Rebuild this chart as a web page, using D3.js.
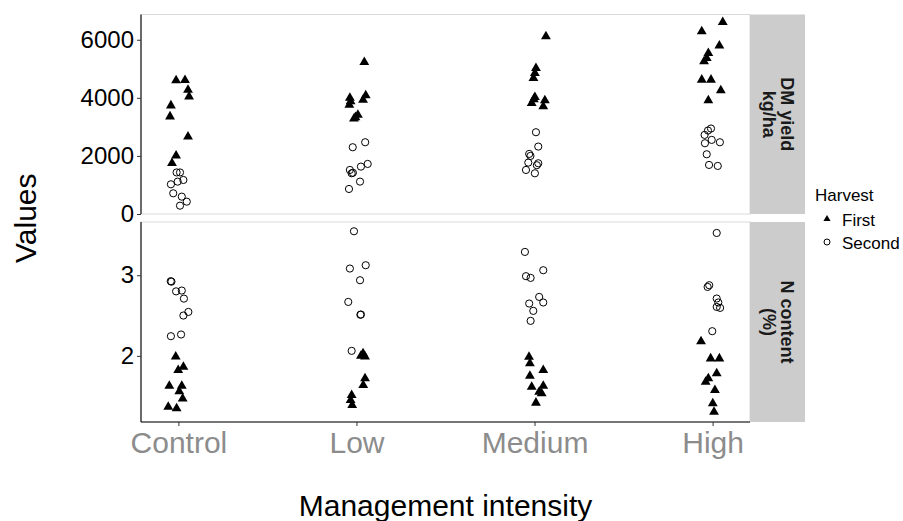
<!DOCTYPE html>
<html>
<head>
<meta charset="utf-8">
<script src="https://cdn.jsdelivr.net/npm/d3@7/dist/d3.min.js"></script>
<style>
  html, body { margin: 0; padding: 0; background: #fff; }
  svg { display: block; font-family: "Liberation Sans", Arial, sans-serif; }
</style>
</head>
<body>
<svg id="chart" width="903" height="521"></svg>
<script>
// Management intensity levels on the x axis
const categories = ["Control", "Low", "Medium", "High"];
const harvests = ["First", "Second"];

// Facet rows: DM yield (kg/ha) and N content (%)
const yieldTicks = [0, 2000, 4000, 6000];
const nTicks = [2, 3];

// Each row: [category, value, jitter (in category units)]
const yieldFirst = [
  ["Control", 4600, -0.013], ["Control", 4610, 0.037], ["Control", 4276, 0.054],
  ["Control", 4045, 0.060], ["Control", 3735, -0.042], ["Control", 3356, -0.047],
  ["Control", 2666, 0.054], ["Control", 2010, -0.013], ["Control", 1747, -0.036],
  ["Low", 5230, 0.044], ["Low", 4000, -0.037], ["Low", 3880, -0.033],
  ["Low", 3760, -0.040], ["Low", 4080, 0.052], ["Low", 3930, 0.037],
  ["Low", 3410, 0.008], ["Low", 3330, -0.006], ["Low", 3280, -0.014],
  ["Medium", 6115, 0.064], ["Medium", 5023, 0.008], ["Medium", 4851, 0.002],
  ["Medium", 4679, -0.006], ["Medium", 4023, 0.002], ["Medium", 3950, -0.004],
  ["Medium", 3816, -0.016], ["Medium", 3908, 0.058], ["Medium", 3701, 0.049],
  ["High", 6609, 0.057], ["High", 6287, -0.061], ["High", 5793, 0.038],
  ["High", 5540, -0.024], ["High", 5368, -0.033], ["High", 5253, -0.048],
  ["High", 4621, -0.061], ["High", 4621, -0.009], ["High", 4253, 0.046],
  ["High", 3908, -0.024]
];
const yieldSecond = [
  ["Control", 1431, -0.010], ["Control", 1431, 0.009], ["Control", 1172, 0.028],
  ["Control", 1115, -0.004], ["Control", 1023, -0.042], ["Control", 713, -0.029],
  ["Control", 598, 0.019], ["Control", 425, 0.047], ["Control", 287, 0.009],
  ["Low", 2299, -0.021], ["Low", 2471, 0.049], ["Low", 1517, -0.037],
  ["Low", 1402, -0.027], ["Low", 1420, -0.020], ["Low", 1632, 0.025],
  ["Low", 1724, 0.063], ["Low", 1115, 0.020], ["Low", 862, -0.042],
  ["Medium", 2816, 0.008], ["Medium", 2322, 0.021], ["Medium", 2069, -0.030],
  ["Medium", 2000, -0.023], ["Medium", 1770, -0.035], ["Medium", 1747, 0.021],
  ["Medium", 1680, 0.013], ["Medium", 1517, -0.048], ["Medium", 1402, 0.002],
  ["High", 2943, -0.009], ["High", 2874, -0.026], ["High", 2724, -0.045],
  ["High", 2552, -0.005], ["High", 2471, 0.041], ["High", 2437, -0.043],
  ["High", 2057, -0.033], ["High", 1690, -0.020], ["High", 1655, 0.029]
];
const nFirst = [
  ["Control", 1.99, -0.015], ["Control", 1.864, 0.028], ["Control", 1.823, -0.001],
  ["Control", 1.628, -0.051], ["Control", 1.628, 0.019], ["Control", 1.56, 0.005],
  ["Control", 1.47, 0.024], ["Control", 1.368, -0.057], ["Control", 1.348, -0.010],
  ["Low", 2.0, 0.025], ["Low", 1.99, 0.048], ["Low", 2.03, 0.037],
  ["Low", 1.72, 0.048], ["Low", 1.637, 0.038], ["Low", 1.513, -0.027],
  ["Low", 1.451, -0.033], ["Low", 1.389, -0.024],
  ["Medium", 1.988, -0.031], ["Medium", 1.906, -0.026], ["Medium", 1.823, 0.049],
  ["Medium", 1.752, -0.026], ["Medium", 1.616, -0.016], ["Medium", 1.628, 0.049],
  ["Medium", 1.554, 0.026], ["Medium", 1.534, 0.040], ["Medium", 1.418, 0.008],
  ["High", 2.18, -0.065], ["High", 1.967, -0.011], ["High", 1.967, 0.038],
  ["High", 1.782, 0.023], ["High", 1.72, -0.024], ["High", 1.678, -0.039],
  ["High", 1.575, 0.013], ["High", 1.41, 0.001], ["High", 1.306, 0.008]
];
const nSecond = [
  ["Control", 2.926, -0.043], ["Control", 2.92, -0.039], ["Control", 2.80, -0.013],
  ["Control", 2.81, 0.019], ["Control", 2.71, 0.031], ["Control", 2.545, 0.056],
  ["Control", 2.50, 0.028], ["Control", 2.244, -0.042], ["Control", 2.265, 0.015],
  ["Low", 3.545, -0.014], ["Low", 3.083, -0.037], ["Low", 3.124, 0.052],
  ["Low", 2.938, 0.020], ["Low", 2.669, -0.046], ["Low", 2.513, 0.025],
  ["Low", 2.51, 0.022], ["Low", 2.062, -0.027],
  ["Medium", 3.289, -0.054], ["Medium", 2.988, -0.048], ["Medium", 2.967, -0.022],
  ["Medium", 3.062, 0.049], ["Medium", 2.731, 0.026], ["Medium", 2.662, 0.049],
  ["Medium", 2.649, -0.030], ["Medium", 2.558, -0.007], ["Medium", 2.434, -0.022],
  ["High", 3.524, 0.023], ["High", 2.855, -0.028], ["High", 2.876, -0.019],
  ["High", 2.711, 0.023], ["High", 2.662, 0.032], ["High", 2.607, 0.023],
  ["High", 2.595, 0.042], ["High", 2.306, -0.002]
];

const svg = d3.select("#chart");
const FONT = "'Liberation Sans', Arial, sans-serif";

// Layout
const left = 141, right = 750, stripW = 55;
const panels = [
  { key: "yield", top: 14.5, bottom: 214, domain: [0, 6870], ticks: yieldTicks,
    label: ["DM yield", "kg/ha"], first: yieldFirst, second: yieldSecond },
  { key: "n", top: 222, bottom: 422, domain: [1.18, 3.66], ticks: nTicks,
    label: ["N content", "(%)"], first: nFirst, second: nSecond }
];

// Discrete x positions (1..4) on a continuous range with padding
const xPos = d3.scaleLinear().domain([0.79, 4.21]).range([left, right]);
const catIndex = c => categories.indexOf(c) + 1;

const triangle = d3.symbol().type(d3.symbolTriangle).size(42);
const triangleSmall = d3.symbol().type(d3.symbolTriangle).size(22);

panels.forEach(p => {
  const y = d3.scaleLinear().domain(p.domain).range([p.bottom, p.top]);
  const g = svg.append("g");

  // Panel frame (light border on top and right)
  g.append("rect")
    .attr("x", left).attr("y", p.top)
    .attr("width", right - left).attr("height", p.bottom - p.top)
    .attr("fill", "#fff").attr("stroke", "#d9d9d9").attr("stroke-width", 1);

  // Strip on the right
  g.append("rect")
    .attr("x", right).attr("y", p.top)
    .attr("width", stripW).attr("height", p.bottom - p.top)
    .attr("fill", "#cccccc");
  const cy = (p.top + p.bottom) / 2, cx = right + stripW / 2;
  const st = g.append("text")
    .attr("transform", `translate(${cx},${cy}) rotate(90)`)
    .attr("text-anchor", "middle")
    .attr("font-family", FONT).attr("font-size", 18).attr("font-weight", "bold")
    .attr("fill", "#1a1a1a");
  st.append("tspan").attr("x", 0).attr("dy", "-0.22em").text(p.label[0]);
  st.append("tspan").attr("x", 0).attr("dy", "1.0em").text(p.label[1]);

  // Left axis
  const ax = g.append("g")
    .attr("transform", `translate(${left},0)`)
    .call(d3.axisLeft(y).tickValues(p.ticks).tickSize(4).tickPadding(3).tickFormat(d3.format("d")));
  ax.select(".domain").attr("stroke", "#000").attr("stroke-width", 1.1)
    .attr("d", `M0,${p.top}V${p.bottom}`);
  ax.selectAll(".tick line").attr("stroke", "#333");
  ax.selectAll(".tick text")
    .attr("font-family", FONT).attr("font-size", 24).attr("fill", "#000");

  // Points: second harvest circles, first harvest triangles
  g.selectAll(".sec").data(p.second).enter().append("circle")
    .attr("cx", d => xPos(catIndex(d[0]) + d[2]))
    .attr("cy", d => y(d[1]))
    .attr("r", 3.6)
    .attr("fill", "none").attr("stroke", "#000").attr("stroke-width", 1);
  g.selectAll(".fst").data(p.first).enter().append("path")
    .attr("d", triangle)
    .attr("transform", d => `translate(${xPos(catIndex(d[0]) + d[2])},${y(d[1])})`)
    .attr("fill", "#000");
});

// Bottom x axis
const bottomPanel = panels[1];
const xa = svg.append("g")
  .attr("transform", `translate(0,${bottomPanel.bottom})`)
  .call(d3.axisBottom(xPos).tickValues([1, 2, 3, 4]).tickSize(4).tickPadding(6)
    .tickFormat(d => categories[d - 1]));
xa.select(".domain").attr("stroke", "#000").attr("stroke-width", 1.1)
  .attr("d", `M${left},0H${right}`);
xa.selectAll(".tick line").attr("stroke", "#333");
xa.selectAll(".tick text")
  .attr("font-family", FONT).attr("font-size", 30).attr("fill", "#8c8c8c");

// Axis titles
svg.append("text")
  .attr("x", (left + right) / 2).attr("y", 516)
  .attr("text-anchor", "middle")
  .attr("font-family", FONT).attr("font-size", 30).attr("fill", "#000")
  .text("Management intensity");
svg.append("text")
  .attr("transform", `translate(36,${(panels[0].top + panels[1].bottom) / 2}) rotate(-90)`)
  .attr("text-anchor", "middle")
  .attr("font-family", FONT).attr("font-size", 30).attr("fill", "#000")
  .text("Values");

// Legend
const lg = svg.append("g");
lg.append("text").attr("x", 815).attr("y", 201)
  .attr("font-family", FONT).attr("font-size", 17).attr("fill", "#000").text("Harvest");
harvests.forEach((h, i) => {
  const yy = 219 + i * 23;
  if (h === "First") {
    lg.append("path").attr("d", triangleSmall)
      .attr("transform", `translate(827,${yy})`).attr("fill", "#000");
  } else {
    lg.append("circle").attr("cx", 827).attr("cy", yy).attr("r", 3)
      .attr("fill", "none").attr("stroke", "#000").attr("stroke-width", 1);
  }
  lg.append("text").attr("x", 842).attr("y", yy + 6.5)
    .attr("font-family", FONT).attr("font-size", 17).attr("fill", "#000").text(h);
});
</script>
</body>
</html>
